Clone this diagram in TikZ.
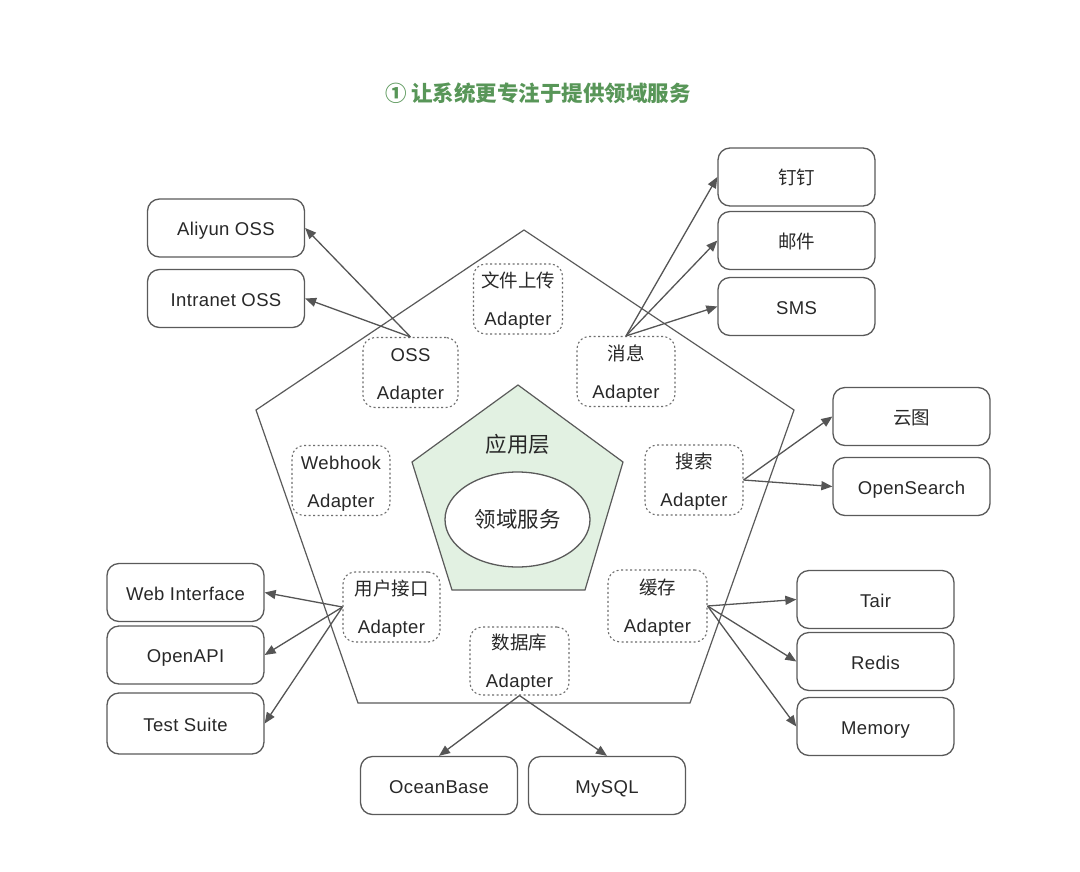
\documentclass[tikz,border=0pt]{standalone}
\usepackage{fontspec}
\setmainfont[LetterSpace=2]{Liberation Sans}
\newfontfamily\cjk{Noto Sans CJK SC}
\usetikzlibrary{arrows.meta,shapes.geometric}
\definecolor{linec}{RGB}{90,90,90}
\definecolor{dotc}{RGB}{110,110,110}
\definecolor{arrc}{RGB}{85,85,85}
\definecolor{innerfill}{RGB}{226,241,226}
\definecolor{titlec}{RGB}{88,150,88}
\definecolor{txt}{RGB}{40,40,40}
\newcommand\adtxt[2]{\rule{0pt}{20pt}#1\\#2\rule[-5pt]{0pt}{5pt}}
\tikzset{
  target/.style={draw=linec, line width=1.3pt, rounded corners=12pt, fill=white,
    minimum width=157pt, minimum height=58pt, inner sep=0pt, text=txt,
    text height=15pt, text depth=0pt,
    font={\fontsize{18.5}{22}\selectfont}},
  adapter/.style={draw=dotc, line width=1.1pt, dash pattern=on 2pt off 2.5pt,
    rounded corners=12pt, fill=white, minimum width=98pt, minimum height=70pt,
    inner sep=0pt, align=center, text=txt,
    font={\fontsize{18.5}{38}\selectfont}},
  conn/.style={draw=arrc, line width=1.3pt, -{Triangle[length=11pt,width=9pt]}},
  penta/.style={draw=linec, line width=1.2pt, line join=miter},
}
\begin{document}
\begin{tikzpicture}[x=1pt,y=-1pt]
\fill[white] (0,0) rectangle (1080,871);
\useasboundingbox (0,0) rectangle (1080,871);

% title
\node[text=titlec, font={\fontsize{21.5}{26}\selectfont\cjk\bfseries}] (title) at (538,93) {① 让系统更专注于提供领域服务};

% outer pentagon
\coordinate (ot) at (524,230);
\coordinate (or) at (794,410);
\coordinate (obr) at (690,703);
\coordinate (obl) at (358,703);
\coordinate (ol) at (256,410);
\draw[penta] (ot) -- (or) -- (obr) -- (obl) -- (ol) -- cycle;

% inner pentagon
\coordinate (it) at (518,385);
\coordinate (ir) at (623,462);
\coordinate (ibr) at (585,590);
\coordinate (ibl) at (452,590);
\coordinate (il) at (412,462);
\draw[penta, fill=innerfill] (it) -- (ir) -- (ibr) -- (ibl) -- (il) -- cycle;

\node[text=txt, font={\fontsize{21.5}{26}\selectfont\cjk}] (app) at (518,444) {应用层};
\node[ellipse, draw=linec, line width=1.3pt, fill=white, minimum width=145pt, minimum height=95pt,
  inner sep=0pt, text=txt, font={\fontsize{21.5}{26}\selectfont\cjk}] (domain) at (517.5,519.5) {领域服务};

% adapters
\node[adapter, minimum width=89pt] (file) at (518,299) {\adtxt{\cjk 文件上传}{Adapter}};
\node[adapter, minimum width=95pt] (oss) at (410.5,372.5) {\adtxt{OSS}{Adapter}};
\node[adapter] (msg) at (626,371.5) {\adtxt{\cjk 消息}{Adapter}};
\node[adapter] (hook) at (341,480.5) {\adtxt{Webhook}{Adapter}};
\node[adapter] (search) at (694,480) {\adtxt{\cjk 搜索}{Adapter}};
\node[adapter, minimum width=97pt] (ui) at (391.5,607) {\adtxt{\cjk 用户接口}{Adapter}};
\node[adapter, minimum width=99pt, minimum height=72pt] (cache) at (657.5,606) {\adtxt{\cjk 缓存}{Adapter}};
\node[adapter, minimum width=99pt, minimum height=68pt] (db) at (519.5,661) {\adtxt{\cjk 数据库}{Adapter}};

% targets
\node[target] (aliyun) at (226,228) {Aliyun OSS};
\node[target] (intranet) at (226,298.5) {Intranet OSS};
\node[target] (ding) at (796.5,177) {\cjk 钉钉};
\node[target] (mail) at (796.5,240.5) {\cjk 邮件};
\node[target] (sms) at (796.5,306.5) {SMS};
\node[target] (yuntu) at (911.5,416.5) {\cjk 云图};
\node[target] (opensearch) at (911.5,486.5) {OpenSearch};
\node[target] (web) at (185.5,592.5) {Web Interface};
\node[target] (openapi) at (185.5,655) {OpenAPI};
\node[target, minimum height=61pt] (test) at (185.5,723.5) {Test Suite};
\node[target] (tair) at (875.5,599.5) {Tair};
\node[target] (redis) at (875.5,661.5) {Redis};
\node[target] (memory) at (875.5,726.5) {Memory};
\node[target] (ocean) at (439,785.5) {OceanBase};
\node[target] (mysql) at (607,785.5) {MySQL};

% connectors
\draw[conn] (oss.north) -- (aliyun.east);
\draw[conn] (oss.north) -- (intranet.east);
\draw[conn] (msg.north) -- (ding.west);
\draw[conn] (msg.north) -- (mail.west);
\draw[conn] (msg.north) -- (sms.west);
\draw[conn] (search.east) -- (yuntu.west);
\draw[conn] (search.east) -- (opensearch.west);
\draw[conn] (ui.west) -- (web.east);
\draw[conn] (ui.west) -- (openapi.east);
\draw[conn] (ui.west) -- (test.east);
\draw[conn] (cache.east) -- (tair.west);
\draw[conn] (cache.east) -- (redis.west);
\draw[conn] (cache.east) -- (memory.west);
\draw[conn] (db.south) -- (ocean.north);
\draw[conn] (db.south) -- (mysql.north);
\end{tikzpicture}
\end{document}
